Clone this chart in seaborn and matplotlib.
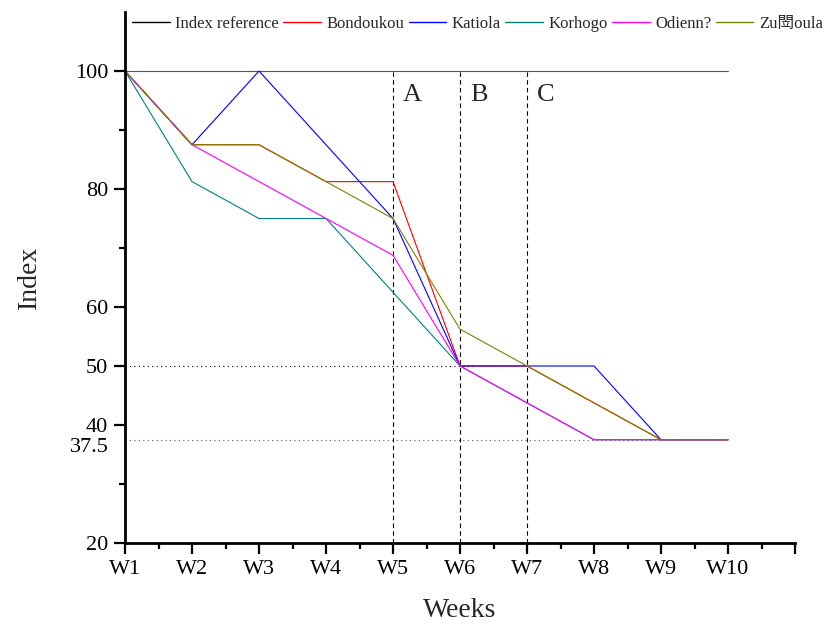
import numpy as np
import pandas as pd
import matplotlib
matplotlib.use("Agg")
import matplotlib.pyplot as plt
import matplotlib.transforms as mtransforms
from matplotlib.lines import Line2D
import seaborn as sns

weeks = ["W1", "W2", "W3", "W4", "W5", "W6", "W7", "W8", "W9", "W10"]
index_reference = [100, 100, 100, 100, 100, 100, 100, 100, 100, 100]
bondoukou = [100, 87.5, 87.5, 81.25, 81.25, 50, 50, 43.75, 37.5, 37.5]
katiola = [100, 87.5, 100, 87.5, 75, 50, 50, 50, 37.5, 37.5]
korhogo = [100, 81.25, 75, 75, 62.5, 50, 43.75, 37.5, 37.5, 37.5]
odienne = [100, 87.5, 81.25, 75, 68.75, 50, 43.75, 37.5, 37.5, 37.5]
zuenoula = [100, 87.5, 87.5, 81.25, 75, 56.25, 50, 43.75, 37.5, 37.5]
series_names = ["Index reference", "Bondoukou", "Katiola", "Korhogo", "Odienn?", "Zu閚oula"]
series_colors = ["#000000", "#FF0000", "#0000FF", "#008080", "#FF00FF", "#808000"]
yticks = [20, 37.5, 40, 50, 60, 80, 100]
ytick_labels = ["20", "37.5", "40", "50", "60", "80", "100"]
phase_labels = ["A", "B", "C"]
phase_weeks = [5, 6, 7]

sns.set_theme(style="ticks")
plt.rcParams['font.family'] = ['Liberation Serif', 'Noto Sans CJK SC']

all_vals = [index_reference, bondoukou, katiola, korhogo, odienne, zuenoula]
rows = []
for name, vals in zip(series_names, all_vals):
    for i, v in enumerate(vals):
        rows.append({"week": i + 1, "value": v, "series": name})
df = pd.DataFrame(rows)

fig = plt.figure(figsize=(8.38, 6.27), dpi=100)
ax = fig.add_axes([125 / 838, 1 - 543 / 627, 670 / 838, 531 / 627])

# reference lines
ax.plot([1, 6.2], [50, 50], color="black", ls=(0, (1, 3)), lw=0.8, zorder=1)
ax.plot([1, 9], [37.5, 37.5], color="#555555", ls=(0, (1, 3)), lw=0.8, zorder=1)
for w, lab in zip(phase_weeks, phase_labels):
    ax.plot([w, w], [20, 100], color="black", ls=(0, (4, 3)), lw=0.8, zorder=1)
    ax.text(w + 0.15, 96.0, lab, fontsize=19, va="center", ha="left")

sns.lineplot(data=df, x="week", y="value", hue="series", hue_order=series_names,
             palette=dict(zip(series_names, series_colors)), lw=0.8, ax=ax,
             legend=False, zorder=2)
ax.lines[-6].set_color("#555555")

ax.set_xlim(1, 11)
ax.set_ylim(20, 110)
ax.set_xticks(range(1, 12))
ax.set_xticklabels(weeks + [""])
ax.set_xticks(np.arange(1.5, 11.5, 1), minor=True)
ax.set_yticks(yticks)
ax.set_yticklabels(ytick_labels)
ax.set_yticks([30, 70, 90], minor=True)
ax.yaxis.get_major_ticks()[1].tick1line.set_visible(False)

for s in ["top", "right"]:
    ax.spines[s].set_visible(False)
for s in ["left", "bottom"]:
    ax.spines[s].set_linewidth(2)
    ax.spines[s].set_color("black")
ax.tick_params(axis="both", which="major", direction="out", length=8, width=1.6,
               labelsize=16, colors="black", pad=4)
ax.tick_params(axis="both", which="minor", direction="out", length=4.5, width=1.6,
               colors="black")
# nudge the 37.5 label slightly down as in the reference
lbl = ax.get_yticklabels()[1]
lbl.set_transform(lbl.get_transform() + mtransforms.ScaledTranslation(0, -5 / 100, fig.dpi_scale_trans))

ax.set_xlabel("Weeks", fontsize=20, labelpad=14)
ax.set_ylabel("Index", fontsize=20, labelpad=20)
ax.grid(False)

handles = [Line2D([0], [0], color=c, lw=1.0) for c in series_colors]
fig.legend(handles, series_names, ncol=6, loc="center left",
           bbox_to_anchor=(132 / 838, 1 - 24 / 627),
           frameon=False, fontsize=12.0, handlelength=2.25, handletextpad=0.35,
           columnspacing=0.25, borderaxespad=0.0, borderpad=0.0)

fig.savefig("out.png", dpi=100, facecolor="white")
